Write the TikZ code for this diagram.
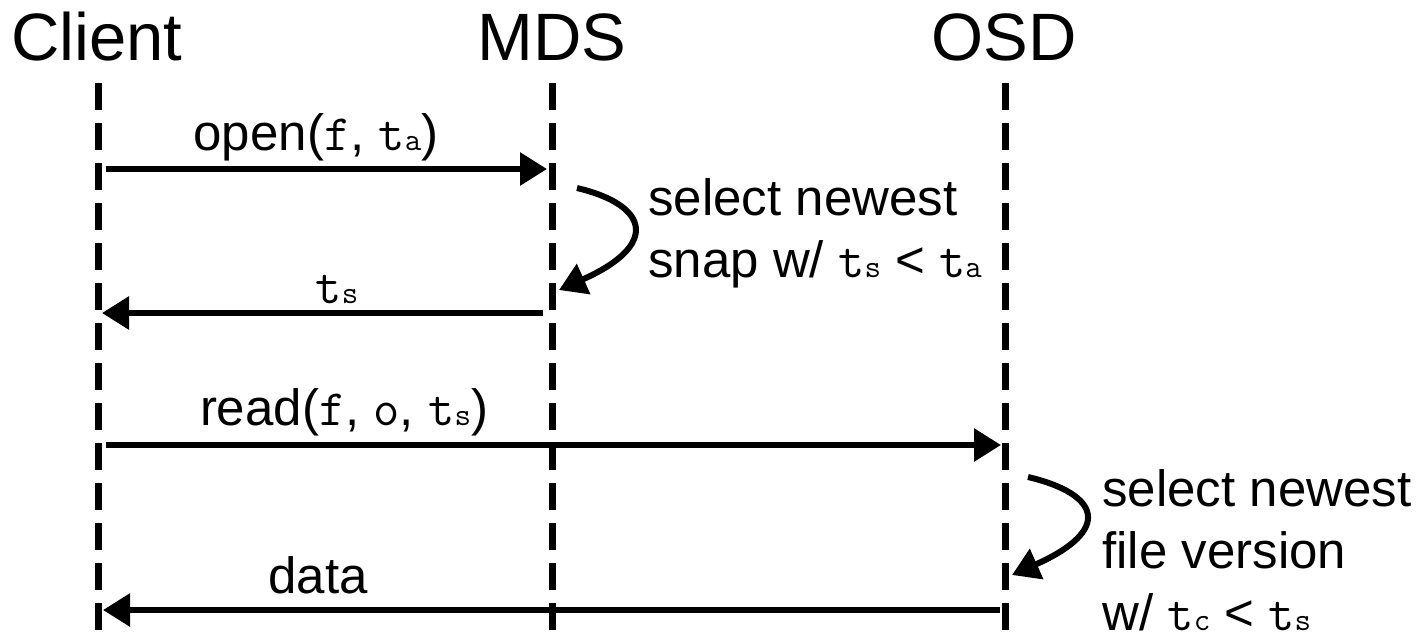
\documentclass[tikz,border=0pt]{standalone}
\usepackage{fontspec}
\setmainfont{Liberation Sans}
\usetikzlibrary{arrows.meta}
\newcommand{\tvar}[1]{\texttt{t{\fontsize{16}{16}\selectfont #1}}}
\begin{document}
\begin{tikzpicture}[x=0.5pt,y=-0.5pt,
  lifeline/.style={line width=3.5pt,dash pattern=on 13.5pt off 6.5pt},
  msg/.style={line width=3pt,-{Triangle[length=13.5pt,width=16pt]}},
  lbl/.style={font=\fontsize{25.5}{31}\selectfont,inner sep=0pt},
  actor/.style={font=\fontsize{33.5}{38}\selectfont,inner sep=0pt,anchor=base}]
\useasboundingbox (0,0) rectangle (1418,638);
% actors and lifelines
\node[actor] (client) at (97,60) {Client};
\node[actor] (mds) at (552,60) {MDS};
\node[actor] (osd) at (1004,60) {OSD};
\coordinate (clienttop) at (98,83);
\coordinate (clientbot) at (98,640);
\coordinate (mdstop) at (552,83);
\coordinate (mdsbot) at (552,640);
\coordinate (osdtop) at (1005,83);
\coordinate (osdbot) at (1005,640);
\draw[lifeline] (clienttop) -- (clientbot);
\draw[lifeline] (mdstop) -- (mdsbot);
\draw[lifeline] (osdtop) -- (osdbot);
% message end points
\coordinate (open-s) at (106,169);
\coordinate (open-e) at (547,169);
\coordinate (ts-s) at (543,313);
\coordinate (ts-e) at (102,313);
\coordinate (read-s) at (106,445);
\coordinate (read-e) at (1001,445);
\coordinate (data-s) at (1000,610);
\coordinate (data-e) at (103,610);
\draw[msg] (open-s) -- (open-e);
\draw[msg] (ts-s) -- (ts-e);
\draw[msg] (read-s) -- (read-e);
\draw[msg] (data-s) -- (data-e);
\node[lbl,anchor=base] (openlbl) at (316,150) {open(\texttt{f}, \tvar{a})};
\node[lbl,anchor=base] (tslbl) at (337,303) {\tvar{s}};
\node[lbl,anchor=base] (readlbl) at (344,425) {read(\texttt{f}, \texttt{o}, \tvar{s})};
\node[lbl,anchor=base] (datalbl) at (318,593) {data};
% local steps
\coordinate (snap-s) at (577,188);
\coordinate (snap-e) at (559,290);
\coordinate (ver-s) at (1028,477);
\coordinate (ver-e) at (1012,575);
\draw[msg] (snap-s) .. controls (649,205) and (660,245) .. (snap-e);
\draw[msg] (ver-s) .. controls (1100,494) and (1113,530) .. (ver-e);
\node[lbl,anchor=base west,align=left] (snaplbl) at (648,277)
  {select newest\\snap w/ \tvar{s} < \tvar{a}};
\node[lbl,anchor=base west,align=left] (verlbl) at (1102,630)
  {select newest\\file version\\w/ \tvar{c} < \tvar{s}};
\end{tikzpicture}
\end{document}
